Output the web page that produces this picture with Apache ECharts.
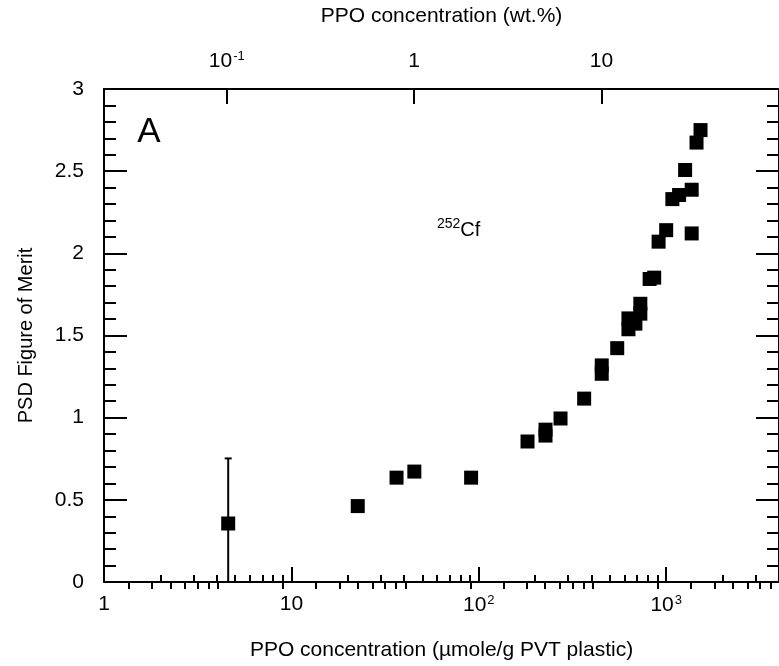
<!DOCTYPE html>
<html>
<head>
<meta charset="utf-8">
<script src="https://cdn.jsdelivr.net/npm/echarts@6/dist/echarts.min.js"></script>
<style>
  html, body { margin: 0; padding: 0; background: #fff; }
  #chart { width: 779px; height: 666px; }
</style>
</head>
<body>
<div id="chart"></div>
<script>
// PPO loading in PVT (umol/g) and the measured PSD figure of merit (252Cf source)
const ppoUmol = [4.6, 22.6, 36.4, 45.3, 91, 182, 227, 227, 273, 365, 453, 453, 548,
                 629, 629, 685, 728, 728, 816, 863, 911, 1000, 1079, 1172, 1262,
                 1368, 1368, 1452, 1525];
const psdFom  = [0.356, 0.462, 0.635, 0.672, 0.635, 0.855, 0.927, 0.891, 0.995, 1.116, 1.318, 1.267, 1.423,
                 1.604, 1.538, 1.572, 1.633, 1.693, 1.844, 1.852, 2.071, 2.141, 2.330, 2.355, 2.507,
                 2.387, 2.121, 2.674, 2.750];

// error bar on the lowest-concentration sample
const errX = [4.6];
const errY = [0.356];
const errHalf = [0.396];

// axis ticks
const bottomMajor = [1, 10, 100, 1000];
const bottomMinor = [2, 3, 4, 5, 6, 7, 8, 9, 20, 30, 40, 50, 60, 70, 80, 90,
                     200, 300, 400, 500, 600, 700, 800, 900, 2000, 3000];
const topMajor = [0.1, 1, 10];
const topMinor = [0.03, 0.04, 0.05, 0.06, 0.07, 0.08, 0.09, 0.2, 0.3, 0.4, 0.5, 0.6, 0.7, 0.8, 0.9,
                  2, 3, 4, 5, 6, 7, 8, 9, 20, 30, 40, 50, 60, 70, 80];

const xMin = 1, xMax = 4000;
// umol of PPO per gram of plastic corresponding to 1 wt.% (M = 221.26 g/mol)
const umolPerWtPct = 45.2;

const FONT = "'Liberation Sans', Arial, Helvetica, sans-serif";
const INK = '#000';

function powLabel(v) {
  const e = Math.round(Math.log10(v));
  if (e === 0) return '1';
  if (e === 1) return '10';
  return '10{sup|' + e + '}';
}

const labelRich = {
  sup: { fontSize: 13, fontFamily: FONT, color: INK, verticalAlign: 'top', lineHeight: 22, padding: [0, 0, 0, 1] }
};

function logAxis(opts) {
  return Object.assign({
    type: 'log',
    logBase: 10,
    gridIndex: 0,
    splitLine: { show: false },
    axisLine: { show: false },
    axisLabel: { show: false },
    axisTick: { show: false },
    minorTick: { show: false }
  }, opts);
}

const chart = echarts.init(document.getElementById('chart'), null, { renderer: 'canvas' });

const scatterData = ppoUmol.map((x, i) => [x, psdFom[i]]);
const errData = errX.map((x, i) => [x, errY[i], errHalf[i]]);

chart.setOption({
  animation: false,
  backgroundColor: '#fff',
  grid: { left: 104, right: -6, top: 89, bottom: 79, containLabel: false },
  xAxis: [
    logAxis({
      position: 'bottom', min: xMin, max: xMax,
      name: 'PPO concentration (\u00b5mole/g PVT plastic)',
      nameLocation: 'middle', nameGap: 58,
      nameTextStyle: { fontFamily: FONT, fontSize: 21, color: INK },
      axisLine: { show: true, onZero: false, lineStyle: { color: INK, width: 2 } },
      axisTick: { show: true, inside: true, length: 15, customValues: bottomMajor, lineStyle: { color: INK, width: 2 } },
      axisLabel: {
        show: true, customValues: bottomMajor, margin: 12,
        fontFamily: FONT, fontSize: 21, color: INK,
        formatter: powLabel, rich: labelRich
      }
    }),
    logAxis({
      position: 'bottom', min: xMin, max: xMax,
      axisTick: { show: true, inside: true, length: 7, customValues: bottomMinor, lineStyle: { color: INK, width: 2 } }
    }),
    logAxis({
      position: 'top', min: xMin / umolPerWtPct, max: xMax / umolPerWtPct,
      name: 'PPO concentration (wt.%)',
      nameLocation: 'middle', nameGap: 62,
      nameTextStyle: { fontFamily: FONT, fontSize: 21, color: INK },
      axisLine: { show: true, onZero: false, lineStyle: { color: INK, width: 2 } },
      axisTick: { show: true, inside: true, length: 15, customValues: topMajor, lineStyle: { color: INK, width: 2 } },
      axisLabel: {
        show: true, customValues: topMajor, margin: 17,
        fontFamily: FONT, fontSize: 21, color: INK,
        formatter: powLabel, rich: labelRich
      }
    }),
    logAxis({
      position: 'top', min: xMin / umolPerWtPct, max: xMax / umolPerWtPct,
      axisTick: { show: true, inside: true, length: 7, customValues: topMinor, lineStyle: { color: INK, width: 2 } }
    })
  ],
  yAxis: [
    {
      type: 'value', position: 'left', min: 0, max: 3, interval: 0.5,
      name: 'PSD Figure of Merit', nameLocation: 'middle', nameGap: 68, nameRotate: 90,
      nameTextStyle: { fontFamily: FONT, fontSize: 20, color: INK },
      splitLine: { show: false },
      axisLine: { show: true, onZero: false, lineStyle: { color: INK, width: 2 } },
      axisTick: { show: true, inside: true, length: 23, lineStyle: { color: INK, width: 2 } },
      minorTick: { show: true, splitNumber: 5, length: 12, lineStyle: { color: INK, width: 2 } },
      axisLabel: {
        margin: 20, fontFamily: FONT, fontSize: 21, color: INK,
        formatter: v => (Math.round(v * 10) / 10).toString()
      }
    },
    {
      type: 'value', position: 'right', min: 0, max: 3, interval: 0.5,
      splitLine: { show: false },
      axisLine: { show: true, onZero: false, lineStyle: { color: INK, width: 2 } },
      axisTick: { show: true, inside: true, length: 23, lineStyle: { color: INK, width: 2 } },
      minorTick: { show: true, splitNumber: 5, length: 12, lineStyle: { color: INK, width: 2 } },
      axisLabel: { show: false }
    }
  ],
  series: [
    {
      type: 'custom',
      name: 'error',
      xAxisIndex: 0, yAxisIndex: 0,
      clip: true,
      z: 2,
      data: errData,
      renderItem: function (params, api) {
        const x = api.value(0), y = api.value(1), e = api.value(2);
        const lo = api.coord([x, y - e]);
        const hi = api.coord([x, y + e]);
        const cap = 3.5;
        const style = { stroke: INK, lineWidth: 2 };
        return {
          type: 'group',
          children: [
            { type: 'line', shape: { x1: lo[0], y1: lo[1], x2: hi[0], y2: hi[1] }, style: style },
            { type: 'line', shape: { x1: hi[0] - cap, y1: hi[1], x2: hi[0] + cap, y2: hi[1] }, style: style },
            { type: 'line', shape: { x1: lo[0] - cap, y1: lo[1], x2: lo[0] + cap, y2: lo[1] }, style: style }
          ]
        };
      }
    },
    {
      type: 'scatter',
      name: '252Cf',
      xAxisIndex: 0, yAxisIndex: 0,
      symbol: 'rect',
      symbolSize: 14,
      z: 3,
      itemStyle: { color: INK, opacity: 1 },
      data: scatterData
    }
  ],
  graphic: [
    {
      type: 'text', z: 10,
      style: { text: 'A', x: 149, y: 132, align: 'center', verticalAlign: 'middle',
               font: '35px ' + FONT, fill: INK }
    },
    {
      type: 'text', z: 10,
      style: {
        text: '{s|252}{b|Cf}', x: 437, y: 230, align: 'left', verticalAlign: 'middle',
        rich: {
          s: { fontSize: 14, fontFamily: FONT, fill: INK, verticalAlign: 'top', lineHeight: 26 },
          b: { fontSize: 20, fontFamily: FONT, fill: INK, lineHeight: 26 }
        }
      }
    }
  ]
});
</script>
</body>
</html>
